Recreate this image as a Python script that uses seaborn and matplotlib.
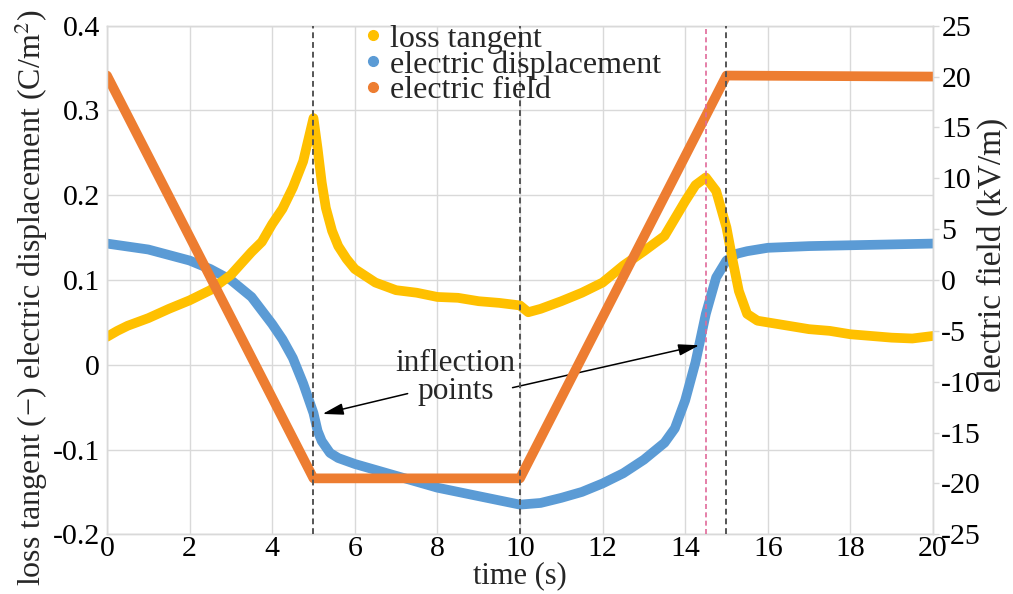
import matplotlib
matplotlib.use("Agg")
import matplotlib.pyplot as plt
from matplotlib.lines import Line2D
import seaborn as sns

# ---- measured series -------------------------------------------------------
# loss tangent (-), left axis
t_loss = [0, 0.25, 0.5, 1, 1.5, 2, 2.5, 3, 3.5, 3.75, 4, 4.25, 4.5, 4.75, 5,
          5.1, 5.2, 5.3, 5.45, 5.6, 5.8, 6, 6.5, 7, 7.5, 8, 8.5, 9, 9.5, 10,
          10.2, 10.5, 11, 11.5, 12, 12.5, 13, 13.5, 14, 14.25, 14.5, 14.75,
          15, 15.15, 15.3, 15.5, 15.75, 16, 16.5, 17, 17.5, 18, 18.5, 19,
          19.5, 20]
loss_tangent = [0.033, 0.040, 0.046, 0.055, 0.066, 0.076, 0.088, 0.106,
                0.133, 0.145, 0.166, 0.184, 0.209, 0.240, 0.291,
                0.255, 0.215, 0.185, 0.158, 0.140, 0.125, 0.113, 0.097,
                0.088, 0.085, 0.080, 0.079, 0.075, 0.073, 0.070,
                0.062, 0.066, 0.075, 0.085, 0.097, 0.117, 0.134, 0.152,
                0.193, 0.212, 0.221, 0.205,
                0.162, 0.123, 0.087, 0.060, 0.052, 0.050, 0.046, 0.042,
                0.040, 0.036, 0.034, 0.032, 0.031, 0.034]

# electric displacement (C/m^2), left axis
t_disp = [0, 1, 2, 2.5, 3, 3.5, 4, 4.25, 4.5, 4.75, 5, 5.1, 5.2, 5.4, 5.6,
          6, 6.5, 7, 8, 9, 10, 10.5, 11, 11.5, 12, 12.5, 13, 13.5, 13.75,
          14, 14.25, 14.5, 14.75, 15, 15.25, 15.5, 16, 17, 18, 19, 20]
displacement = [0.143, 0.136, 0.123, 0.113, 0.100, 0.080, 0.048, 0.030,
                0.008, -0.022, -0.057, -0.078, -0.090, -0.104, -0.110,
                -0.117, -0.124, -0.131, -0.145, -0.155, -0.165, -0.163,
                -0.157, -0.150, -0.140, -0.128, -0.112, -0.092, -0.075,
                -0.042, 0.003, 0.060, 0.103, 0.123, 0.131, 0.134, 0.138,
                0.140, 0.141, 0.142, 0.143]

# electric field (kV/m), right axis
t_field = [0, 5, 10, 15, 20]
field_kv = [20.1, -19.5, -19.5, 20.1, 20.0]

# reference times marked by dashed lines
t_marks_gray = [5, 10, 15]
t_mark_pink = 14.5

# ticks
x_ticks = [0, 2, 4, 6, 8, 10, 12, 14, 16, 18, 20]
left_ticks = [-0.2, -0.1, 0.0, 0.1, 0.2, 0.3, 0.4]
left_labels = ["-0.2", "-0.1", "0", "0.1", "0.2", "0.3", "0.4"]
right_ticks = [-25, -20, -15, -10, -5, 0, 5, 10, 15, 20, 25]

series_names = ["loss tangent", "electric displacement", "electric field"]

# ---- styling ---------------------------------------------------------------
YELLOW = "#FFC000"
BLUE = "#5B9BD5"
ORANGE = "#ED7D31"
GRID = "#d9d9d9"

sns.set_theme(style="white")
plt.rcParams["font.family"] = ["Liberation Serif", "DejaVu Serif"]
plt.rcParams["mathtext.fontset"] = "stix"
plt.rcParams["axes.unicode_minus"] = False

fig, ax = plt.subplots(figsize=(10.13, 5.94), dpi=100)
fig.subplots_adjust(left=0.1056, right=0.921, bottom=0.1005, top=0.9567)
ax2 = ax.twinx()

LW = 7
sns.lineplot(x=t_disp, y=displacement, ax=ax, color=BLUE, linewidth=LW,
             sort=False, estimator=None, legend=False,
             solid_capstyle="round", solid_joinstyle="round")
sns.lineplot(x=t_loss, y=loss_tangent, ax=ax, color=YELLOW, linewidth=LW,
             sort=False, estimator=None, legend=False,
             solid_capstyle="round", solid_joinstyle="round")
sns.lineplot(x=t_field, y=field_kv, ax=ax2, color=ORANGE, linewidth=LW,
             sort=False, estimator=None, legend=False,
             solid_capstyle="round", solid_joinstyle="round")

# dashed markers for ramp changes and the loss peak
for tm in t_marks_gray:
    ax2.axvline(tm, color="#555555", linestyle=(0, (3, 2)), linewidth=1.4,
                zorder=5)
ax2.axvline(t_mark_pink, color="#E06A9A", linestyle=(0, (3, 2)),
            linewidth=1.2, zorder=5)

# axes ranges and ticks
ax.set_xlim(0, 20)
ax.set_ylim(-0.2, 0.4)
ax2.set_ylim(-25, 25)
ax.set_xticks(x_ticks)
ax.set_xticklabels([str(v) for v in x_ticks])
ax.set_yticks(left_ticks)
ax.set_yticklabels(left_labels)
ax2.set_yticks(right_ticks)
ax2.set_yticklabels([str(v) for v in right_ticks])

TICK_FS = 21.5
ax.tick_params(axis="both", length=0, labelsize=TICK_FS, colors="black")
ax.tick_params(axis="x", pad=1)
ax.tick_params(axis="y", pad=5)
ax2.tick_params(axis="y", length=4, width=1, color=GRID, direction="out",
                labelsize=TICK_FS, pad=2, labelcolor="black")

ax.grid(True, color=GRID, linewidth=1)
ax2.grid(False)
for a in (ax, ax2):
    for sp in a.spines.values():
        sp.set_color(GRID)
        sp.set_linewidth(1)

ax.set_xlabel("time (s)", fontsize=22, labelpad=0)
ax.set_ylabel("loss tangent (\u2212) electric displacement (C/m$^2$)",
              fontsize=23, va="center")
ax.yaxis.set_label_coords(-0.092, 0.466)
ax2.set_ylabel("electric field (kV/m)", fontsize=24, va="center")
ax2.yaxis.set_label_coords(1.072, 0.549)

# annotation of the two inflection points
ax.text(8.44, -0.015, "inflection\npoints", ha="center", va="center",
        fontsize=22.5, linespacing=0.95, zorder=6)
arrow = dict(arrowstyle="-|>,head_length=0.9,head_width=0.25",
             color="black", linewidth=1.1, mutation_scale=14,
             shrinkA=0, shrinkB=0)
ax.annotate("", xy=(5.22, -0.058), xytext=(7.28, -0.034),
            arrowprops=arrow, zorder=6)
ax.annotate("", xy=(14.34, 0.023), xytext=(9.82, -0.027),
            arrowprops=arrow, zorder=6)

# legend collecting the three series from both axes
handles = [Line2D([], [], marker="o", linestyle="none", color=c,
                  markersize=7) for c in (YELLOW, BLUE, ORANGE)]
ax2.legend(handles, series_names, loc="upper left",
           bbox_to_anchor=(0.31, 1.003), frameon=False, fontsize=23,
           handlelength=0.6, handletextpad=0.25, labelspacing=-0.11,
           borderpad=0, borderaxespad=0)

fig.savefig("out.png", dpi=100)
